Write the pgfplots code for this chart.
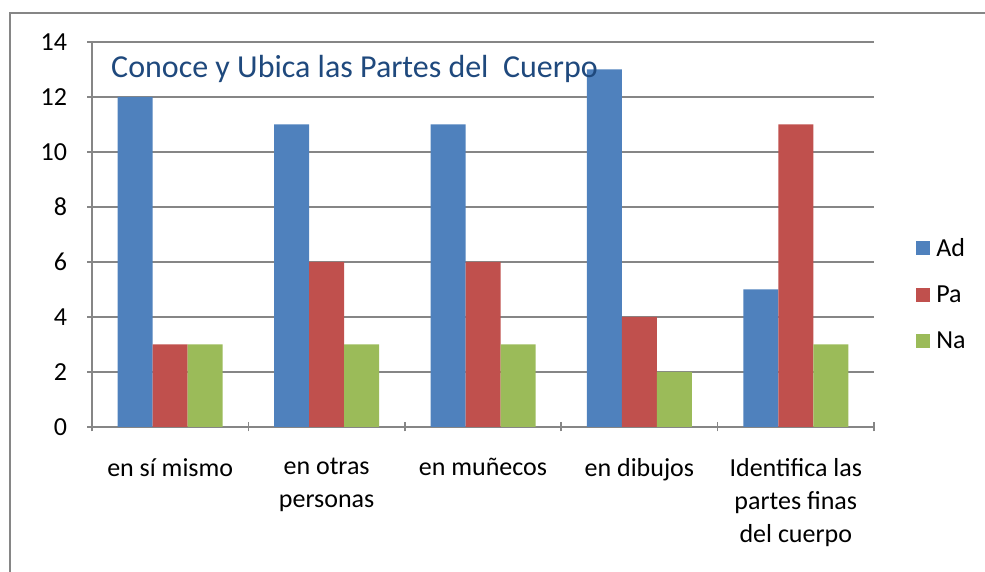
\documentclass[border=0pt]{standalone}
\usepackage{pgfplots}
\pgfplotsset{compat=1.18}
\usepackage{fontspec}
\setmainfont{Carlito}
\definecolor{cAd}{HTML}{4F81BD}
\definecolor{cPa}{HTML}{C0504D}
\definecolor{cNa}{HTML}{9BBB59}
\definecolor{cGrid}{HTML}{868686}
\definecolor{cTitle}{HTML}{1F497D}
\begin{document}
\begin{tikzpicture}[x=1pt,y=1pt]
\useasboundingbox (0,0) rectangle (985,572);
\draw[cGrid, line width=2pt] (10,0) -- (10,559) -- (986,559);
\begin{axis}[
  at={(92pt,145pt)}, anchor=south west,
  scale only axis, width=782pt, height=385pt,
  ybar=0pt, bar width=35pt,
  xmin=-0.5, xmax=4.5, ymin=0, ymax=14,
  ytick={0,2,...,14},
  xtick={-0.5,0.5,1.5,2.5,3.5,4.5},
  xticklabels={},
  extra x ticks={0,1,2,3,4},
  extra x tick labels={en sí mismo, en otras\\personas, en muñecos, en dibujos, Identifica las\\partes finas\\del cuerpo},
  extra x tick style={major tick length=0pt, xticklabel style={align=center, anchor=north, yshift=-28pt}},
  tick style={cGrid, line width=1.5pt},
  major tick length=9pt, tick align=outside,
  axis lines=left, axis line style={-, cGrid, line width=1.5pt},
  ymajorgrids, grid style={cGrid, line width=1.5pt},
  tick label style={font=\fontsize{26}{33}\selectfont},
  yticklabel style={anchor=east, xshift=-17pt},
  /pgf/number format/assume math mode=true,
  legend style={draw=none, fill=none, at={(1.05,0.345)}, anchor=west,
    font=\fontsize{26}{30}\selectfont, row sep=24pt,
    legend cell align=left},
  legend image code/.code={\fill[#1,draw=none] (0pt,-7pt) rectangle (14pt,7pt); \path (18pt,0pt);},
  clip=false,
]
\addplot[fill=cAd, draw=none] coordinates {(0,12) (1,11) (2,11) (3,13) (4,5)};
\addplot[fill=cPa, draw=none] coordinates {(0,3) (1,6) (2,6) (3,4) (4,11)};
\addplot[fill=cNa, draw=none] coordinates {(0,3) (1,3) (2,3) (3,2) (4,3)};
\legend{Ad, Pa, Na}
\end{axis}
\node[anchor=base west, inner sep=0pt, text=cTitle, font=\fontsize{32}{38}\selectfont] at (111,494) {Conoce y Ubica las Partes del \ Cuerpo};
\end{tikzpicture}
\end{document}
